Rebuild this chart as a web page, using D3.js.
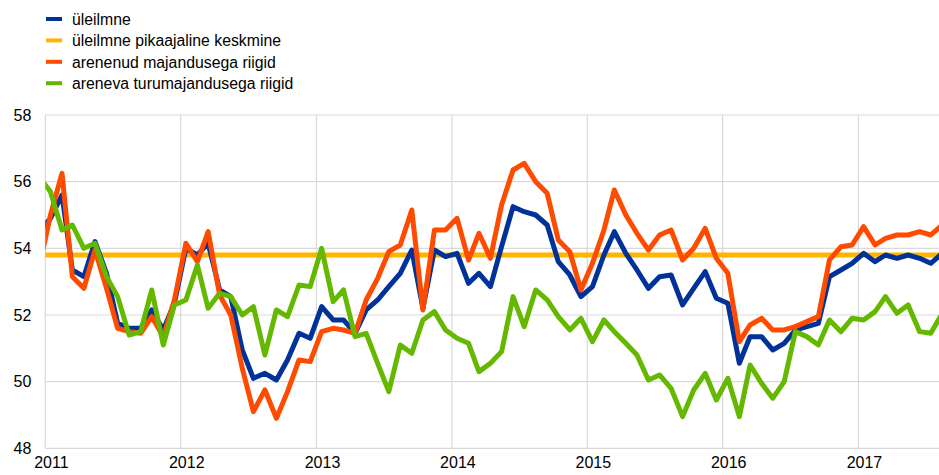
<!DOCTYPE html>
<html>
<head>
<meta charset="utf-8">
<script src="https://cdn.jsdelivr.net/npm/d3@7"></script>
<style>
  body { margin: 0; background: #fff; }
  svg { font-family: "Liberation Sans", Arial, sans-serif; }
</style>
</head>
<body>
<div id="chart"></div>
<script>
// monthly values, Dec 2010 .. Aug 2017 (first and last are cut off by the plot edge)
var firstMonth = new Date(2010, 11, 1);
var lastMonth = new Date(2017, 7, 1);

var seriesNames = ["üleilmne", "üleilmne pikaajaline keskmine", "arenenud majandusega riigid", "areneva turumajandusega riigid"];
var seriesColors = ["#003299", "#ffb400", "#ff4b00", "#65b800"];

var globalPmi = [54.5, 54.9, 55.6, 53.35, 53.15, 54.2, 53.25, 51.75, 51.6, 51.6, 52.15, 51.55, 52.35,
  54.0, 53.8, 54.15, 52.75, 52.55, 50.95, 50.1, 50.25, 50.05, 50.65, 51.45, 51.3,
  52.25, 51.85, 51.85, 51.45, 52.15, 52.45, 52.85, 53.25, 53.95, 52.2, 53.95, 53.75,
  53.85, 52.95, 53.25, 52.85, 54.05, 55.25, 55.1, 55.0, 54.7, 53.6, 53.2, 52.55,
  52.85, 53.8, 54.5, 53.85, 53.35, 52.8, 53.15, 53.2, 52.3, 52.8, 53.3, 52.5,
  52.35, 50.55, 51.35, 51.35, 50.95, 51.15, 51.55, 51.65, 51.75, 53.15, 53.35, 53.55,
  53.85, 53.6, 53.8, 53.7, 53.8, 53.7, 53.55, 53.85];
var longRunAverage = 53.8;
var advanced = [53.4, 55.0, 56.25, 53.15, 52.8, 53.95, 52.8, 51.6, 51.5, 51.45, 51.95, 51.35, 52.45,
  54.15, 53.6, 54.5, 52.6, 52.0, 50.4, 49.1, 49.75, 48.9, 49.7, 50.65, 50.6,
  51.5, 51.6, 51.55, 51.45, 52.45, 53.1, 53.9, 54.1, 55.15, 52.15, 54.55, 54.55,
  54.9, 53.65, 54.45, 53.7, 55.3, 56.35, 56.55, 56.0, 55.65, 54.25, 53.9, 52.75,
  53.55, 54.55, 55.75, 55.0, 54.45, 53.95, 54.4, 54.55, 53.65, 54.0, 54.6, 53.7,
  53.25, 51.2, 51.7, 51.9, 51.55, 51.55, 51.65, 51.8, 51.95, 53.65, 54.05, 54.1,
  54.65, 54.1, 54.3, 54.4, 54.4, 54.5, 54.4, 54.7];
var emerging = [56.15, 55.7, 54.55, 54.7, 54.0, 54.15, 53.15, 52.55, 51.4, 51.5, 52.75, 51.1, 52.3,
  52.45, 53.5, 52.2, 52.65, 52.55, 52.0, 52.25, 50.8, 52.15, 51.95, 52.9, 52.85,
  54.0, 52.4, 52.75, 51.35, 51.45, 50.55, 49.7, 51.1, 50.85, 51.85, 52.1, 51.55,
  51.3, 51.15, 50.3, 50.55, 50.9, 52.55, 51.65, 52.75, 52.45, 51.95, 51.55, 51.9,
  51.2, 51.85, 51.5, 51.15, 50.8, 50.05, 50.2, 49.8, 48.95, 49.75, 50.25, 49.45,
  50.1, 48.95, 50.5, 49.95, 49.5, 50.0, 51.5, 51.35, 51.1, 51.85, 51.5, 51.9,
  51.85, 52.1, 52.55, 52.05, 52.3, 51.5, 51.45, 52.05];

var yTicks = [48, 50, 52, 54, 56, 58];
var yearTicks = [2011, 2012, 2013, 2014, 2015, 2016, 2017];

var width = 939, height = 475;
var plotLeft = 45.3, plotRight = 939, plotTop = 115, plotBottom = 448.3;

var svg = d3.select("#chart").append("svg")
  .attr("width", width)
  .attr("height", height);

var months = d3.timeMonth.range(firstMonth, d3.timeMonth.offset(lastMonth, 1));
var midMonth = months.map(function(d) { return d3.timeDay.offset(d, 14); });

var x = d3.scaleTime()
  .domain([new Date(2011, 0, 1), new Date(2018, 0, 1)])
  .range([plotLeft, plotLeft + 7 * 135.5]);

var y = d3.scaleLinear()
  .domain([48, 58])
  .range([plotBottom, plotTop]);

// grid
var grid = svg.append("g").attr("class", "grid");
grid.selectAll(".hgrid").data(yTicks).enter().append("line")
  .attr("x1", plotLeft).attr("x2", plotRight)
  .attr("y1", function(d) { return y(d); })
  .attr("y2", function(d) { return y(d); })
  .attr("stroke", "#d9d9d9").attr("stroke-width", 1.2);
grid.selectAll(".vgrid").data(yearTicks).enter().append("line")
  .attr("x1", function(d) { return x(new Date(d, 0, 1)); })
  .attr("x2", function(d) { return x(new Date(d, 0, 1)); })
  .attr("y1", plotTop).attr("y2", plotBottom)
  .attr("stroke", "#d9d9d9").attr("stroke-width", 1.2);

// y axis labels
svg.append("g")
  .attr("transform", "translate(" + (plotLeft - 14) + ",0)")
  .call(d3.axisLeft(y).tickValues(yTicks).tickSize(0).tickPadding(0))
  .call(function(g) { g.select(".domain").remove(); })
  .selectAll("text")
  .attr("font-size", "16px")
  .attr("font-family", "Liberation Sans, Arial, sans-serif")
  .attr("fill", "#000");

// x axis labels, centred on mid-January
svg.append("g")
  .attr("transform", "translate(0," + (plotBottom + 8) + ")")
  .call(d3.axisBottom(x)
    .tickValues(yearTicks.map(function(d) { return new Date(d, 0, 16); }))
    .tickFormat(d3.timeFormat("%Y"))
    .tickSize(0).tickPadding(0))
  .call(function(g) { g.select(".domain").remove(); })
  .selectAll("text")
  .attr("font-size", "16px")
  .attr("font-family", "Liberation Sans, Arial, sans-serif")
  .attr("fill", "#000");

svg.append("clipPath").attr("id", "plotclip")
  .append("rect")
  .attr("x", plotLeft).attr("y", 0)
  .attr("width", plotRight - plotLeft).attr("height", height);

var line = d3.line()
  .x(function(d, i) { return x(midMonth[i]); })
  .y(function(d) { return y(d); });

var lines = svg.append("g").attr("clip-path", "url(#plotclip)");
var longRun = months.map(function() { return longRunAverage; });
var drawOrder = [[longRun, 1], [globalPmi, 0], [advanced, 2], [emerging, 3]];
drawOrder.forEach(function(s) {
  lines.append("path")
    .datum(s[0])
    .attr("d", line)
    .attr("fill", "none")
    .attr("stroke", seriesColors[s[1]])
    .attr("stroke-width", 5)
    .attr("stroke-linejoin", "round");
});

// legend
var legend = svg.append("g").attr("transform", "translate(46,19)");
var items = legend.selectAll("g").data(seriesNames).enter().append("g")
  .attr("transform", function(d, i) { return "translate(0," + (i * 21.4) + ")"; });
items.append("rect")
  .attr("x", 0).attr("y", -2)
  .attr("width", 16).attr("height", 4)
  .attr("fill", function(d, i) { return seriesColors[i]; });
items.append("text")
  .attr("x", 26).attr("y", 6)
  .attr("font-size", "15.8px")
  .attr("fill", "#000")
  .text(function(d) { return d; });
</script>
</body>
</html>
